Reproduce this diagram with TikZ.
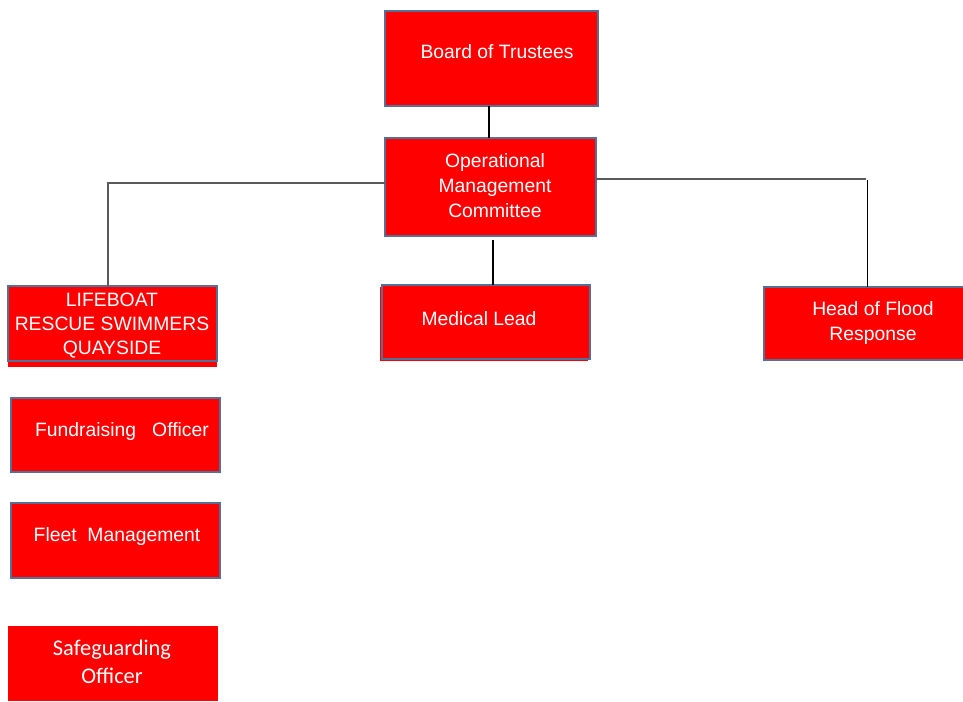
\documentclass[tikz,border=0pt]{standalone}
\usepackage{fontspec}
\setmainfont{Liberation Sans}
\newfontfamily\calfont{Carlito}
\usetikzlibrary{fit}
\definecolor{boxred}{RGB}{255,0,0}
\definecolor{bordercol}{RGB}{84,112,150}
\definecolor{linegray}{RGB}{90,90,90}
\begin{document}
\begin{tikzpicture}[x=0.75pt,y=-0.75pt,
  box/.style={draw=bordercol, line width=1.5pt, fill=boxred, inner sep=0pt, outer sep=0pt},
  fillonly/.style={fill=boxred, draw=none, inner sep=0pt, outer sep=0pt},
  lbl/.style={text=white, font=\fontsize{14.5pt}{18.75pt}\selectfont, align=center, inner sep=0pt},
  lblcal/.style={text=white, font=\calfont\fontsize{16.8pt}{21pt}\selectfont, align=center, inner sep=0pt},
  link/.style={line width=0.9pt, draw=black},
  graylink/.style={line width=1.3pt, draw=linegray}]
\useasboundingbox (0,0) rectangle (963,701);
\fill[white] (0,0) rectangle (963,701);

% boxes
\node[box, fit={(385,11) (598,106)}] (board) {};
\node[box, fit={(385,138) (596,236)}] (omc) {};
\node[fillonly, fit={(8,290) (217,367)}] (lifefill) {};
\node[box, fit={(8,286) (217,361)}] (life) {};
\node[fillonly, fit={(380,287) (588,361)}] (medfill) {};
\node[box, fit={(382,285) (590,359)}] (med) {};
\node[box, fit={(764,287) (965,360)}] (head) {};
\node[box, fit={(11,398) (220,472)}] (fund) {};
\node[box, fit={(11,503) (220,578)}] (fleet) {};
\node[fillonly, fit={(8,626) (218,701)}] (safe) {};

% texts
\node[lbl] (boardtxt) at (497,52) {Board of Trustees};
\node[lbl] (omctxt) at (495,185.5) {Operational\\Management\\Committee};
\node[lbl, font=\fontsize{14.5pt}{18pt}\selectfont] (lifetxt) at (112,326) {LIFEBOAT\\RESCUE SWIMMERS\\QUAYSIDE};
\node[lbl] (medtxt) at (479,319) {Medical Lead};
\node[lbl] (headtxt) at (873,323) {Head of Flood\\Response};
\node[lbl] (fundtxt) at (122,431) {Fundraising\ \ \ Officer};
\node[lbl] (fleettxt) at (117,536) {Fleet\ \ Management};
\node[lblcal] (safetxt) at (112,662) {Safeguarding\\Officer};

% connectors
\coordinate (bj) at (489,0);
\draw[link] (bj |- board.south) -- (bj |- omc.north);
\coordinate (lj) at (108,183);
\draw[graylink, line width=0.9pt] (lj -| omc.west) -- (lj) -- (lj |- life.north);
\coordinate (mj) at (493,240);
\draw[link] (mj) -- (mj |- med.north);
\coordinate (rj) at (866,179);
\draw[graylink] (rj -| omc.east) -- (rj);
\coordinate (rv) at (867,180);
\draw[link, line width=0.7pt] (rv) -- (rv |- head.north);
\end{tikzpicture}
\end{document}
